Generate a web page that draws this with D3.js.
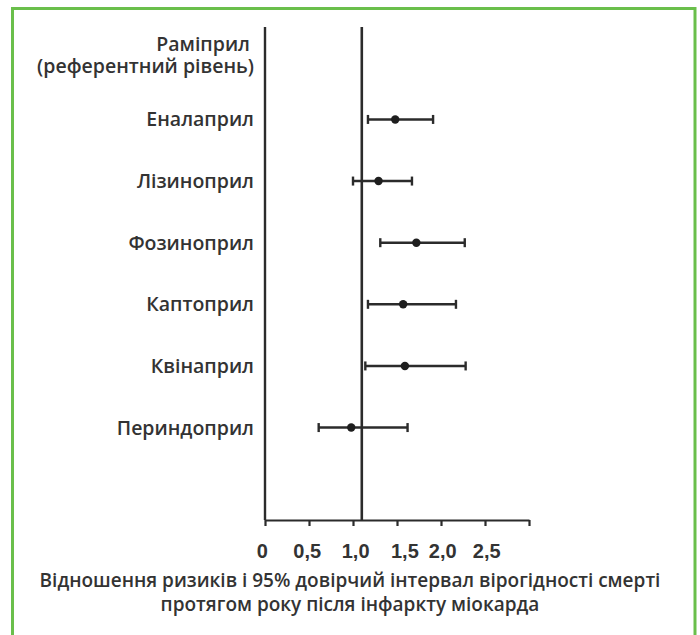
<!DOCTYPE html>
<html lang="uk">
<head>
    <meta charset="UTF-8">
    <title>Відношення ризиків</title>
    <script src="https://cdn.jsdelivr.net/npm/d3@7/dist/d3.min.js"></script>
    <style>
        body { margin: 0; background: #fff; }
        svg { display: block; }
    </style>
</head>
<body>
    <svg width="700" height="635"></svg>
    <script>
        // data
        var drugs = ["Еналаприл", "Лізиноприл", "Фозиноприл", "Каптоприл", "Квінаприл", "Периндоприл"];
        var hr    = [1.48, 1.29, 1.72, 1.57, 1.59, 0.98];
        var lower = [1.17, 1.00, 1.31, 1.17, 1.14, 0.61];
        var upper = [1.91, 1.67, 2.27, 2.17, 2.28, 1.62];
        var refLabel = ["Раміприл", "(референтний рівень)"];
        var refValue = 1.1;
        var tickValues = [0, 0.5, 1, 1.5, 2, 2.5, 3];
        var tickLabels = ["0", "0,5", "1,0", "1,5", "2,0", "2,5"];
        var tickLabelPos = [-0.03, 0.48, 1.03, 1.59, 2.02, 2.52];
        var titleLines = ["Відношення ризиків і 95% довірчий інтервал вірогідності смерті",
                          "протягом року після інфаркту міокарда"];

        var svg = d3.select("svg");
        var ink = "#2b2b2b";

        // green frame (bottom edge runs off the page)
        svg.append("rect")
            .attr("x", 12.5).attr("y", 8.5)
            .attr("width", 682.5).attr("height", 660)
            .attr("fill", "none")
            .attr("stroke", "#6abf4b")
            .attr("stroke-width", 3);

        var rows = ["ref"].concat(drugs).concat(["blank"]);
        var x = d3.scaleLinear().domain([0, 3]).range([265, 529]);
        var y = d3.scaleBand().domain(rows).range([27, 520]);
        var yc = function(d) { return y(d) + y.bandwidth() / 2; };

        // x axis
        var xAxis = svg.append("g")
            .attr("transform", "translate(0,520)")
            .call(d3.axisBottom(x).tickValues(tickValues).tickSize(6).tickSizeOuter(0).tickFormat(""));
        xAxis.select(".domain").attr("stroke", ink).attr("stroke-width", 2.2);
        xAxis.selectAll(".tick line").attr("stroke", ink).attr("stroke-width", 2.2);

        svg.append("g").selectAll("text")
            .data(tickLabels)
            .join("text")
            .attr("x", function(d, i) { return x(tickLabelPos[i]); })
            .attr("y", 558)
            .attr("text-anchor", "middle")
            .attr("font-family", "Liberation Sans, Arial, sans-serif")
            .attr("font-weight", "bold")
            .attr("font-size", 20)
            .attr("fill", "#333")
            .text(function(d) { return d; });

        // left axis line
        svg.append("line")
            .attr("x1", x(0)).attr("x2", x(0))
            .attr("y1", 27).attr("y2", 520)
            .attr("stroke", ink).attr("stroke-width", 2.4);

        // reference line
        svg.append("line")
            .attr("x1", x(refValue)).attr("x2", x(refValue))
            .attr("y1", 27).attr("y2", 520)
            .attr("stroke", ink).attr("stroke-width", 2.6);

        // row labels
        var labelFont = "'Open Sans', 'Noto Sans', sans-serif";
        svg.append("g").selectAll("text")
            .data(drugs)
            .join("text")
            .attr("x", 254)
            .attr("y", function(d) { return yc(d); })
            .attr("dy", "0.36em")
            .attr("text-anchor", "end")
            .attr("font-family", labelFont)
            .attr("font-weight", 600)
            .attr("font-size", 19.5)
            .attr("fill", "#333")
            .text(function(d) { return d; });

        var refText = svg.append("text")
            .attr("text-anchor", "end")
            .attr("font-family", labelFont)
            .attr("font-weight", 600)
            .attr("font-size", 19.5)
            .attr("fill", "#333");
        refText.selectAll("tspan")
            .data(refLabel)
            .join("tspan")
            .attr("x", function(d, i) { return i === 0 ? 250 : 254; })
            .attr("y", function(d, i) { return yc("ref") + (i === 0 ? -7 : 15); })
            .text(function(d) { return d; });

        // error bars
        var bars = svg.append("g").selectAll("g")
            .data(drugs)
            .join("g")
            .attr("transform", function(d) { return "translate(0," + yc(d) + ")"; });

        bars.append("line")
            .attr("x1", function(d, i) { return x(lower[i]); })
            .attr("x2", function(d, i) { return x(upper[i]); })
            .attr("stroke", ink).attr("stroke-width", 2.4);
        bars.append("line")
            .attr("x1", function(d, i) { return x(lower[i]); })
            .attr("x2", function(d, i) { return x(lower[i]); })
            .attr("y1", -4.5).attr("y2", 4.5)
            .attr("stroke", ink).attr("stroke-width", 2.4);
        bars.append("line")
            .attr("x1", function(d, i) { return x(upper[i]); })
            .attr("x2", function(d, i) { return x(upper[i]); })
            .attr("y1", -4.5).attr("y2", 4.5)
            .attr("stroke", ink).attr("stroke-width", 2.4);
        bars.append("circle")
            .attr("cx", function(d, i) { return x(hr[i]); })
            .attr("r", 4.2)
            .attr("fill", "#1e1e1e");

        // caption
        svg.append("g").selectAll("text")
            .data(titleLines)
            .join("text")
            .attr("x", 350)
            .attr("y", function(d, i) { return 587 + i * 24; })
            .attr("text-anchor", "middle")
            .attr("font-family", labelFont)
            .attr("font-weight", 600)
            .attr("font-size", 19)
            .attr("fill", "#333")
            .text(function(d) { return d; });
    </script>
</body>
</html>
